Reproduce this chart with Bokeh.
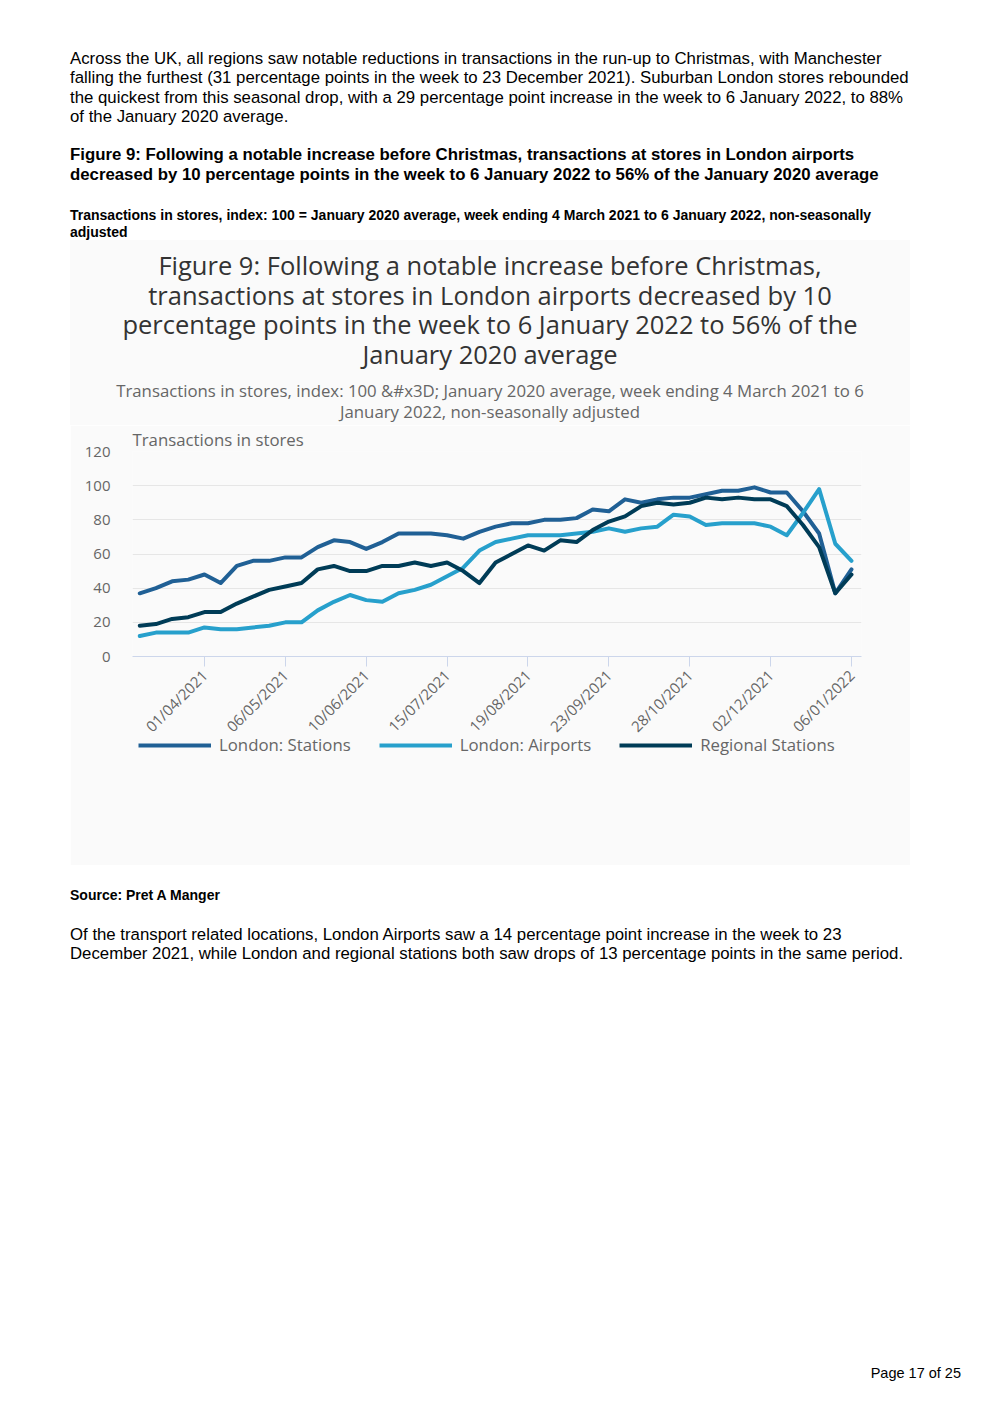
import pandas as pd
from math import pi
from bokeh.plotting import figure
from bokeh.models import (Div, FixedTicker, DatetimeTickFormatter, Legend, LegendItem,
                          Title, Range1d, ColumnDataSource)
from bokeh.layouts import column
from bokeh.embed import file_html
from bokeh.resources import INLINE

# ---------------- data ----------------
first_week = "2021-03-04"          # week ending 4 March 2021
n_weeks = 45                       # to week ending 6 January 2022
tick_labels = ["01/04/2021", "06/05/2021", "10/06/2021", "15/07/2021", "19/08/2021",
               "23/09/2021", "28/10/2021", "02/12/2021", "06/01/2022"]
y_ticks = [0, 20, 40, 60, 80, 100, 120]

london_stations = [37, 40, 44, 45, 48, 43, 53, 56, 56, 58, 58, 64, 68, 67, 63, 67, 72, 72, 72, 71,
                   69, 73, 76, 78, 78, 80, 80, 81, 86, 85, 92, 90, 92, 93, 93, 95, 97, 97, 99, 96,
                   96, 85, 72, 37, 51]
london_airports = [12, 14, 14, 14, 17, 16, 16, 17, 18, 20, 20, 27, 32, 36, 33, 32, 37, 39, 42, 47,
                   52, 62, 67, 69, 71, 71, 71, 72, 73, 75, 73, 75, 76, 83, 82, 77, 78, 78, 78, 76,
                   71, 84, 98, 66, 56]
regional_stations = [18, 19, 22, 23, 26, 26, 31, 35, 39, 41, 43, 51, 53, 50, 50, 53, 53, 55, 53, 55,
                     50, 43, 55, 60, 65, 62, 68, 67, 74, 79, 82, 88, 90, 89, 90, 93, 92, 93, 92, 92,
                     88, 77, 64, 37, 48]

series_names = ["London: Stations", "London: Airports", "Regional Stations"]
series_colors = ["#206095", "#27a0cc", "#003c57"]

chart_title_lines = ["Figure 9: Following a notable increase before Christmas,",
                     "transactions at stores in London airports decreased by 10",
                     "percentage points in the week to 6 January 2022 to 56% of the",
                     "January 2020 average"]
chart_subtitle_lines = ["Transactions in stores, index: 100 &amp;#x3D; January 2020 average, week ending 4 March 2021 to 6",
                        "January 2022, non-seasonally adjusted"]
y_axis_title = "Transactions in stores"

# ---------------- chart ----------------
weeks = pd.date_range(first_week, periods=n_weeks, freq="7D")
tick_dates = pd.to_datetime(tick_labels, format="%d/%m/%Y")
WEEK_MS = 7 * 86400000.0


def ms(ts):
    return ts.value / 1e6


src = ColumnDataSource(dict(week=weeks, ls=london_stations, la=london_airports, rs=regional_stations))

BG = "#fafafa"
LABEL_GREY = "#666666"
p = figure(width=840, height=440, x_axis_type="datetime",
           x_range=Range1d(ms(weeks[0]) - 0.45 * WEEK_MS, ms(weeks[-1]) + 0.62 * WEEK_MS),
           y_range=Range1d(0, 120),
           output_backend="svg", toolbar_location=None,
           min_border_left=62, min_border_right=49, min_border_top=26, min_border_bottom=209,
           background_fill_color=BG, border_fill_color=BG, outline_line_color=None,
           margin=(0, 0, 0, 62))

renderers = []
for col, color in zip(["ls", "la", "rs"], series_colors):
    r = p.line("week", col, source=src, line_color=color, line_width=4,
               line_join="round", line_cap="round")
    renderers.append(r)

# axes
p.yaxis.ticker = FixedTicker(ticks=y_ticks)
p.yaxis.axis_line_color = None
p.yaxis.major_tick_line_color = None
p.yaxis.minor_tick_line_color = None
p.yaxis.major_tick_out = 0
p.yaxis.major_tick_in = 0
p.yaxis.major_label_standoff = 22
p.yaxis.major_label_text_font = "Open Sans"
p.yaxis.major_label_text_font_size = "15px"
p.yaxis.major_label_text_color = LABEL_GREY

p.xaxis.ticker = FixedTicker(ticks=[ms(t) for t in tick_dates])
fmt = "%d/%m/%Y"
p.xaxis.formatter = DatetimeTickFormatter(days=fmt, months=fmt, years=fmt, hours=fmt,
                                          hourmin=fmt, minutes=fmt, minsec=fmt, seconds=fmt,
                                          milliseconds=fmt, microseconds=fmt)
p.xaxis.axis_line_color = "#ccd6eb"
p.xaxis.major_tick_line_color = "#ccd6eb"
p.xaxis.minor_tick_line_color = None
p.xaxis.major_tick_out = 10
p.xaxis.major_tick_in = 0
p.xaxis.major_label_orientation = pi / 4
p.xaxis.major_label_standoff = 6
p.xaxis.major_label_text_font = "Open Sans"
p.xaxis.major_label_text_font_size = "15px"
p.xaxis.major_label_text_color = LABEL_GREY

p.xgrid.grid_line_color = None
p.ygrid.grid_line_color = "#e6e6e6"
p.ygrid.grid_line_width = 1

p.add_layout(Title(text=y_axis_title, align="left", standoff=1, offset=0,
                   text_font="Open Sans", text_font_size="16.8px", text_font_style="normal",
                   text_color=LABEL_GREY), "above")

# legend strip laid over the lower part of the chart panel (transparent background)
leg_fig = figure(width=840, height=30, x_range=Range1d(0, 1), y_range=Range1d(0, 1),
                 output_backend="svg", toolbar_location=None,
                 min_border_left=62, min_border_right=49, min_border_top=0, min_border_bottom=0,
                 x_axis_location=None, y_axis_location=None,
                 background_fill_alpha=0, border_fill_alpha=0, outline_line_color=None,
                 margin=(-135, 0, 105, 62))
leg_fig.xgrid.visible = False
leg_fig.ygrid.visible = False
proxies = [leg_fig.line(x=[float("nan")], y=[float("nan")], line_color=c, line_width=4)
           for c in series_colors]
legend = Legend(items=[LegendItem(label=n, renderers=[r]) for n, r in zip(series_names, proxies)],
                orientation="horizontal", location=(6, 4),
                glyph_width=73, glyph_height=20, label_height=20, label_standoff=8, spacing=28,
                padding=0, margin=0, background_fill_alpha=0, border_line_color=None,
                label_text_font="Open Sans", label_text_font_size="16.8px",
                label_text_color=LABEL_GREY)
leg_fig.add_layout(legend, "center")

# ---------------- page text ----------------
def lines_html(lines, left, top, lh, style):
    out = []
    for k, t in enumerate(lines):
        out.append('<div style="position:absolute;left:%spx;top:%.1fpx;height:%.1fpx;line-height:%.1fpx;'
                   'white-space:nowrap;%s">%s</div>' % (left, top + k * lh, lh, lh, style, t))
    return "".join(out)


para1 = ["Across the UK, all regions saw notable reductions in transactions in the run-up to Christmas, with Manchester",
         "falling the furthest (31 percentage points in the week to 23 December 2021). Suburban London stores rebounded",
         "the quickest from this seasonal drop, with a 29 percentage point increase in the week to 6 January 2022, to 88%",
         "of the January 2020 average."]
heading = ["Figure 9: Following a notable increase before Christmas, transactions at stores in London airports",
           "decreased by 10 percentage points in the week to 6 January 2022 to 56% of the January 2020 average"]
subhead = ["Transactions in stores, index: 100 = January 2020 average, week ending 4 March 2021 to 6 January 2022, non-seasonally",
           "adjusted"]
para2 = ["Of the transport related locations, London Airports saw a 14 percentage point increase in the week to 23",
         "December 2021, while London and regional stations both saw drops of 13 percentage points in the same period."]

top_html = ('<div style="position:relative;width:976px;height:232px;font-family:\'Liberation Sans\',Arial,sans-serif;color:#000;">'
            + lines_html(para1, 62, 41, 19.4, "font-size:16.8px;")
            + lines_html(heading, 62, 137, 20, "font-size:16.8px;font-weight:bold;")
            + lines_html(subhead, 62, 198.5, 17, "font-size:14px;font-weight:bold;")
            + '</div>')

chart_title_html = ('<div style="position:relative;width:840px;height:185px;background:#fafafa;'
                    'font-family:\'Open Sans\',sans-serif;">'
                    + lines_html(chart_title_lines, 0, 11.25, 29.5,
                                 "width:840px;text-align:center;font-size:25.5px;color:#333333;")
                    + lines_html(chart_subtitle_lines, 0, 139.5, 21,
                                 "width:840px;text-align:center;font-size:16.8px;color:#666666;")
                    + '</div>')

bottom_html = ('<div style="position:relative;width:976px;height:522px;font-family:\'Liberation Sans\',Arial,sans-serif;color:#000;">'
               + lines_html(["Source: Pret A Manger"], 62, 21.5, 17, "font-size:14px;font-weight:bold;")
               + lines_html(para2, 62, 59.5, 19.4, "font-size:16.8px;")
               + '<div style="position:absolute;right:23px;top:499px;height:18px;line-height:18px;font-size:14.5px;white-space:nowrap;">Page 17 of 25</div>'
               + '</div>')

div_top = Div(text=top_html, width=976, height=232, margin=(0, 0, 0, 0))
div_title = Div(text=chart_title_html, width=840, height=185, margin=(0, 0, 0, 62))
div_bottom = Div(text=bottom_html, width=976, height=522, margin=(0, 0, 0, 0))

page = column(div_top, div_title, p, leg_fig, div_bottom, spacing=0, margin=(8, 0, 0, 8))

open("out.html", "w").write(file_html(page, INLINE))
